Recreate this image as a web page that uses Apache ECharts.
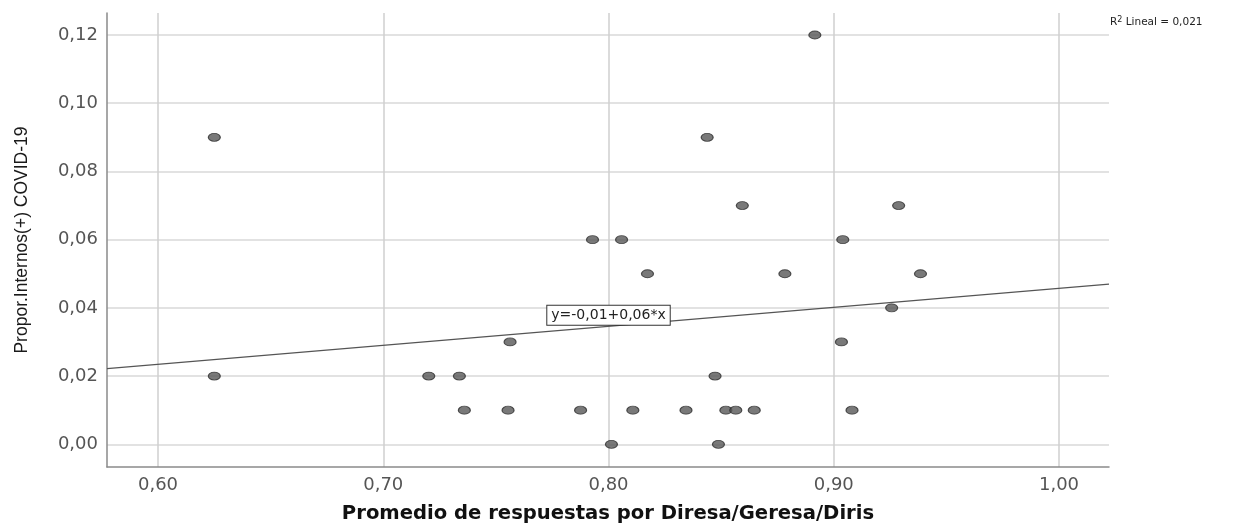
<!DOCTYPE html>
<html>
<head>
<meta charset="utf-8">
<script src="https://cdn.jsdelivr.net/npm/echarts@6/dist/echarts.min.js"></script>
<style>
html,body{margin:0;padding:0;background:#fff;}
#chart{width:1249px;height:529px;}
</style>
</head>
<body>
<div id="chart"></div>
<script>
// Data
const xValues = [0.625, 0.625, 0.7202, 0.7338, 0.736, 0.7554, 0.7563, 0.7876, 0.7929, 0.8013,
                 0.8058, 0.8108, 0.8173, 0.8344, 0.8438, 0.8473, 0.8488, 0.8521, 0.8565, 0.8594,
                 0.8647, 0.8783, 0.8916, 0.9034, 0.904, 0.9081, 0.9257, 0.9288, 0.9385];
const yValues = [0.09, 0.02, 0.02, 0.02, 0.01, 0.01, 0.03, 0.01, 0.06, 0.00,
                 0.06, 0.01, 0.05, 0.01, 0.09, 0.02, 0.00, 0.01, 0.01, 0.07,
                 0.01, 0.05, 0.12, 0.03, 0.06, 0.01, 0.04, 0.07, 0.05];
const xTicks = [0.6, 0.7, 0.8, 0.9, 1.0];
const yTicks = [0.00, 0.02, 0.04, 0.06, 0.08, 0.10, 0.12];
const xRange = [0.57736, 1.02219];
const yRange = [-0.00666, 0.12645];
const fitIntercept = -0.0099;
const fitSlope = 0.0556;
const fitLabel = 'y=-0,01+0,06*x';
const fitLabelPos = [0.8, 0.03785];
const r2Text = 'Lineal = 0,021';
const xTitle = 'Promedio de respuestas por Diresa/Geresa/Diris';
const yTitle = 'Propor.Internos(+) COVID-19';

const points = xValues.map((x, i) => [x, yValues[i]]);
const fitLine = xRange.map(x => [x, fitIntercept + fitSlope * x]);
const fmt2 = v => v.toFixed(2).replace('.', ',');

const chart = echarts.init(document.getElementById('chart'), null, {renderer: 'canvas'});
chart.setOption({
  animation: false,
  backgroundColor: '#ffffff',
  grid: {left: 107, right: 140, top: 13, bottom: 62, containLabel: false},
  xAxis: {
    type: 'value',
    min: xRange[0], max: xRange[1],
    name: xTitle,
    nameLocation: 'middle',
    nameGap: 37,
    nameTextStyle: {fontFamily: 'DejaVu Sans', fontWeight: 'bold', fontSize: 19.6, color: '#111'},
    axisLine: {show: true, onZero: false, lineStyle: {color: '#8a8a8a', width: 1.5}},
    axisTick: {show: false, customValues: xTicks},
    axisLabel: {customValues: xTicks, formatter: fmt2, fontFamily: 'DejaVu Sans', fontSize: 18, color: '#555', margin: 9},
    splitLine: {show: true, lineStyle: {color: '#cfcfcf', width: 1.5}}
  },
  yAxis: {
    type: 'value',
    min: yRange[0], max: yRange[1],
    name: yTitle,
    nameLocation: 'middle',
    nameGap: 76,
    nameRotate: 90,
    nameTextStyle: {fontFamily: 'Liberation Sans', fontSize: 17.5, color: '#1a1a1a'},
    axisLine: {show: true, onZero: false, lineStyle: {color: '#8a8a8a', width: 1.5}},
    axisTick: {show: false, customValues: yTicks},
    axisLabel: {customValues: yTicks, formatter: fmt2, fontFamily: 'DejaVu Sans', fontSize: 18, color: '#555', margin: 9},
    splitLine: {show: true, lineStyle: {color: '#e2e2e2', width: 2}}
  },
  series: [
    {
      type: 'line',
      data: fitLine,
      symbol: 'none',
      silent: true,
      lineStyle: {color: '#555', width: 1.2},
      z: 3,
      markPoint: {
        symbol: 'rect',
        symbolSize: 0,
        data: [{coord: fitLabelPos, value: fitLabel}],
        label: {
          show: true,
          position: 'inside',
          formatter: fitLabel,
          fontFamily: 'DejaVu Sans',
          fontSize: 14,
          color: '#222',
          backgroundColor: '#fff',
          borderColor: '#333',
          borderWidth: 1,
          padding: [3, 4, 2, 4]
        }
      }
    },
    {
      type: 'scatter',
      data: points,
      symbol: 'circle',
      symbolSize: [12, 8],
      itemStyle: {color: '#585858', borderColor: '#2e2e2e', borderWidth: 1},
      z: 4
    }
  ],
  graphic: [{
    type: 'text',
    left: 1110,
    top: 16,
    style: {
      text: 'R{sup|2} ' + r2Text,
      rich: {sup: {fontSize: 8, verticalAlign: 'top', padding: [0, 0, 5, 0], fontFamily: 'DejaVu Sans', fill: '#222'}},
      fontFamily: 'DejaVu Sans',
      fontSize: 10.5,
      fill: '#222'
    }
  }]
});
</script>
</body>
</html>
